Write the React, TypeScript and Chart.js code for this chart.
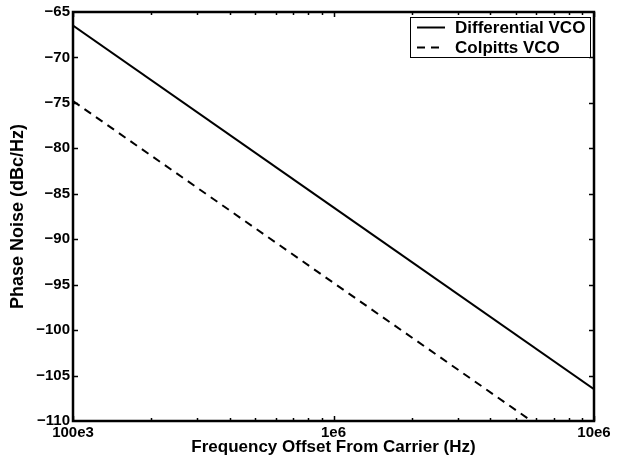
import React, { useEffect, useRef } from "react";
import { Chart, registerables } from "chart.js";

Chart.register(...registerables);

// ---- data ----
const seriesNames = ["Differential VCO", "Colpitts VCO"];
const freqHz = [1e5, 1e6, 1e7];
const differentialDbc = [-66.5, -86.5, -106.5];
const colpittsDbc = [-74.8, -94.8, -114.8];

const xMajorTicks = [1e5, 1e6, 1e7];
const xTickLabels = ["100e3", "1e6", "10e6"];
const xMinorTicks = [2e5, 3e5, 4e5, 5e5, 6e5, 7e5, 8e5, 9e5, 2e6, 3e6, 4e6, 5e6, 6e6, 7e6, 8e6, 9e6];
const yMin = -110;
const yMax = -65;
const yStep = 5;

const FONT = "'Liberation Sans', Arial, Helvetica, sans-serif";

const framePlugin = {
  id: "frameTicks",
  afterDatasetsDraw(chart: any) {
    const { ctx, chartArea: a, scales } = chart;
    const xs = scales.x;
    const ys = scales.y;
    ctx.save();
    ctx.strokeStyle = "#000";
    ctx.lineWidth = 1.5;
    ctx.beginPath();
    for (let v = yMin + yStep; v < yMax; v += yStep) {
      const py = Math.round(ys.getPixelForValue(v)) + 0.5;
      ctx.moveTo(a.left, py);
      ctx.lineTo(a.left + 5, py);
      ctx.moveTo(a.right, py);
      ctx.lineTo(a.right - 5, py);
    }
    const xt = (v: number, len: number) => {
      const px = Math.round(xs.getPixelForValue(v)) + 0.5;
      ctx.moveTo(px, a.bottom);
      ctx.lineTo(px, a.bottom - len);
      ctx.moveTo(px, a.top);
      ctx.lineTo(px, a.top + len);
    };
    xMajorTicks.forEach((v) => xt(v, 5));
    xMinorTicks.forEach((v) => xt(v, 3));
    ctx.stroke();
    ctx.lineWidth = 2.5;
    ctx.strokeRect(a.left, a.top, a.right - a.left, a.bottom - a.top);

    // legend
    const lx = 410, ly = 17, lw = 180, lh = 40;
    ctx.fillStyle = "#fff";
    ctx.fillRect(lx, ly, lw, lh);
    ctx.lineWidth = 1;
    ctx.strokeRect(lx + 0.5, ly + 0.5, lw, lh);
    ctx.font = `bold 17px ${FONT}`;
    ctx.fillStyle = "#000";
    ctx.textBaseline = "middle";
    ctx.textAlign = "left";
    const rows = [ly + 10.5, ly + 30.5];
    chart.data.datasets.forEach((ds: any, i: number) => {
      ctx.lineWidth = 2;
      ctx.setLineDash(ds.borderDash || []);
      ctx.beginPath();
      ctx.moveTo(417, rows[i]);
      ctx.lineTo(445, rows[i]);
      ctx.stroke();
      ctx.setLineDash([]);
      ctx.fillText(ds.label, 455, rows[i] + 1);
    });
    ctx.restore();
  },
};

export default function App() {
  const ref = useRef<HTMLCanvasElement>(null);
  useEffect(() => {
    if (!ref.current) return;
    const chart = new Chart(ref.current, {
      type: "line",
      data: {
        datasets: [
          {
            label: seriesNames[0],
            data: freqHz.map((f, i) => ({ x: f, y: differentialDbc[i] })),
            borderColor: "#000",
            borderWidth: 2,
            pointRadius: 0,
            fill: false,
          },
          {
            label: seriesNames[1],
            data: freqHz.map((f, i) => ({ x: f, y: colpittsDbc[i] })),
            borderColor: "#000",
            borderWidth: 2,
            borderDash: [8, 6],
            pointRadius: 0,
            fill: false,
          },
        ],
      },
      options: {
        animation: false,
        responsive: false,
        layout: { padding: { left: 0, right: 27, top: 10, bottom: 0 } },
        plugins: { legend: { display: false }, tooltip: { enabled: false } },
        scales: {
          x: {
            type: "logarithmic",
            min: 1e5,
            max: 1e7,
            afterBuildTicks: (s: any) => {
              s.ticks = xMajorTicks.map((v) => ({ value: v }));
            },
            afterFit: (s: any) => {
              s.height = 42;
            },
            grid: { display: false, drawTicks: false },
            border: { display: false },
            ticks: {
              autoSkip: false,
              maxRotation: 0,
              padding: 3,
              color: "#000",
              font: { family: FONT, size: 15, weight: "bold" },
              callback: (v: any) => {
                const i = xMajorTicks.indexOf(Number(v));
                return i >= 0 ? xTickLabels[i] : "";
              },
            },
            title: {
              display: true,
              text: "Frequency Offset From Carrier (Hz)",
              color: "#000",
              font: { family: FONT, size: 17, weight: "bold" },
              padding: { top: 0, bottom: 5 },
            },
          },
          y: {
            min: yMin,
            max: yMax,
            afterFit: (s: any) => {
              s.width = 73;
            },
            grid: { display: false, drawTicks: false },
            border: { display: false },
            ticks: {
              stepSize: yStep,
              padding: 3,
              color: "#000",
              font: { family: FONT, size: 15, weight: "bold" },
              callback: (v: any) => String(v).replace("-", "\u2212"),
            },
            title: {
              display: true,
              text: "Phase Noise (dBc/Hz)",
              color: "#000",
              font: { family: FONT, size: 18, weight: "bold" },
              padding: { top: 7, bottom: 0 },
            },
          },
        },
      },
      plugins: [framePlugin],
    });
    return () => chart.destroy();
  }, []);
  return (
    <div style={{ position: "fixed", left: 0, top: 0, width: 621, height: 463, background: "#fff" }}>
      <canvas ref={ref} width={621} height={463} />
    </div>
  );
}
